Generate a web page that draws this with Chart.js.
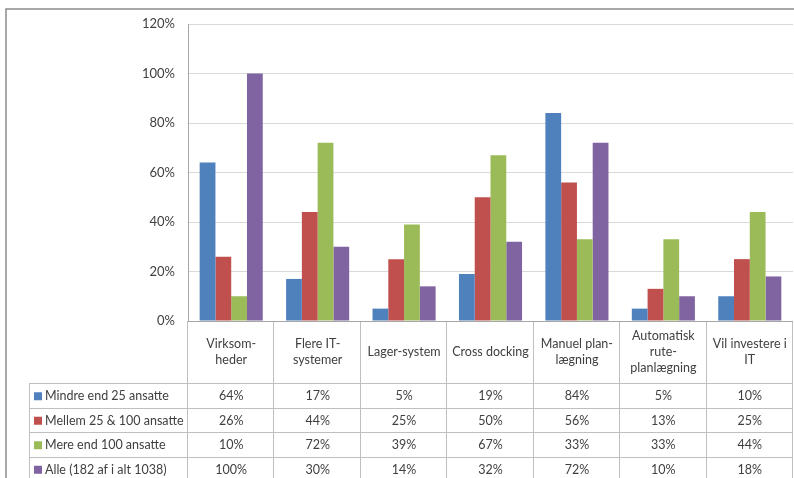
<!DOCTYPE html>
<html>
<head>
<meta charset="utf-8">
<script src="https://cdn.jsdelivr.net/npm/chart.js@4.4.0/dist/chart.umd.min.js"></script>
<style>
    html, body { margin: 0; padding: 0; background: #fff; }
    #wrap { width: 794px; height: 478px; }
</style>
</head>
<body>
<div id="wrap"><canvas id="chart" width="794" height="478"></canvas></div>
<script>
/* Søjlediagram med datatabel under */

const categories = [
    ['Virksom-', 'heder'],
    ['Flere IT-', 'systemer'],
    ['Lager-system'],
    ['Cross docking'],
    ['Manuel plan-', 'lægning'],
    ['Automatisk', 'rute-', 'planlægning'],
    ['Vil investere i', 'IT']
];
const seriesNames = [
    'Mindre end 25 ansatte',
    'Mellem 25 & 100 ansatte',
    'Mere end 100 ansatte',
    'Alle (182 af i alt 1038)'
];
const mindre = [64, 17, 5, 19, 84, 5, 10];
const mellem = [26, 44, 25, 50, 56, 13, 25];
const mere = [10, 72, 39, 67, 33, 33, 44];
const alle = [100, 30, 14, 32, 72, 10, 18];
const seriesColors = ['#4f81bd', '#c0504d', '#9bbb59', '#8064a2'];

const textColor = '#404040';
const fontFamily = 'Lato, "Open Sans", sans-serif';

// tabellen under plotområdet
const dataTable = {
    id: 'dataTable',
    beforeDraw(chart) {
        const ctx = chart.ctx;
        ctx.save();
        ctx.fillStyle = '#fff';
        ctx.fillRect(0, 0, chart.width, chart.height);
        ctx.strokeStyle = '#8c8c8c';
        ctx.lineWidth = 1.5;
        ctx.beginPath();
        ctx.moveTo(6, chart.height);
        ctx.lineTo(6, 9);
        ctx.lineTo(chart.width, 9);
        ctx.stroke();
        ctx.restore();
    },
    afterDraw(chart) {
        const ctx = chart.ctx;
        const a = chart.chartArea;
        const x = chart.scales.x;
        const n = categories.length;
        const headerH = 62, rowH = 24.5, keyLeft = 29;
        const top = a.bottom;
        const rowsTop = top + headerH;
        const sets = chart.data.datasets;

        ctx.save();
        ctx.strokeStyle = '#bfbfbf';
        ctx.lineWidth = 1;
        ctx.beginPath();
        // vandrette linjer
        for (let r = 0; r <= sets.length; r++) {
            const y = Math.round(rowsTop + r * rowH) + 0.5;
            ctx.moveTo(keyLeft, y);
            ctx.lineTo(a.right, y);
        }
        // lodrette linjer
        for (let i = 0; i <= n; i++) {
            const xx = Math.round(x.getPixelForValue(i - 0.5)) - 0.5;
            ctx.moveTo(xx, top);
            ctx.lineTo(xx, chart.height);
        }
        ctx.moveTo(keyLeft + 0.5, rowsTop);
        ctx.lineTo(keyLeft + 0.5, chart.height);
        ctx.stroke();

        // akselinje
        ctx.strokeStyle = '#a6a6a6';
        ctx.beginPath();
        ctx.moveTo(a.left, Math.round(top) + 0.5);
        ctx.lineTo(a.right, Math.round(top) + 0.5);
        ctx.stroke();

        ctx.fillStyle = textColor;
        ctx.font = '12.5px ' + fontFamily;
        ctx.textAlign = 'center';
        ctx.textBaseline = 'middle';
        const lineH = 16;
        categories.forEach((lines, i) => {
            const cx = x.getPixelForTick(i);
            const cy = top + headerH / 2 - (lines.length - 1) * lineH / 2;
            lines.forEach((t, k) => ctx.fillText(t, cx, cy + k * lineH));
        });

        sets.forEach((ds, r) => {
            const cy = rowsTop + r * rowH + rowH / 2 + 1;
            ctx.fillStyle = ds.backgroundColor;
            ctx.fillRect(keyLeft + 5, cy - 4, 8, 8);
            ctx.fillStyle = textColor;
            ctx.textAlign = 'left';
            ctx.fillText(ds.label, keyLeft + 16, cy);
            ctx.textAlign = 'center';
            ds.data.forEach((v, i) => ctx.fillText(v + '%', x.getPixelForTick(i), cy));
        });
        ctx.restore();
    }
};

const ctx = document.getElementById('chart').getContext('2d');
new Chart(ctx, {
    type: 'bar',
    data: {
        labels: categories,
        datasets: [mindre, mellem, mere, alle].map((d, i) => ({
            label: seriesNames[i],
            data: d,
            backgroundColor: seriesColors[i],
            categoryPercentage: 0.73,
            barPercentage: 1
        }))
    },
    options: {
        responsive: false,
        animation: false,
        devicePixelRatio: 1,
        layout: { padding: { left: 0, top: 24, right: 1, bottom: 157 } },
        scales: {
            x: { display: false },
            y: {
                min: 0,
                max: 120,
                ticks: {
                    stepSize: 20,
                    padding: 13,
                    color: textColor,
                    font: { family: fontFamily, size: 13 },
                    callback: v => v + '%'
                },
                grid: { color: '#d9d9d9', drawTicks: false },
                border: { color: '#a6a6a6' },
                afterFit: axis => { axis.width = 188; }
            }
        },
        plugins: {
            legend: { display: false },
            tooltip: { enabled: false }
        }
    },
    plugins: [dataTable]
});
</script>
</body>
</html>
